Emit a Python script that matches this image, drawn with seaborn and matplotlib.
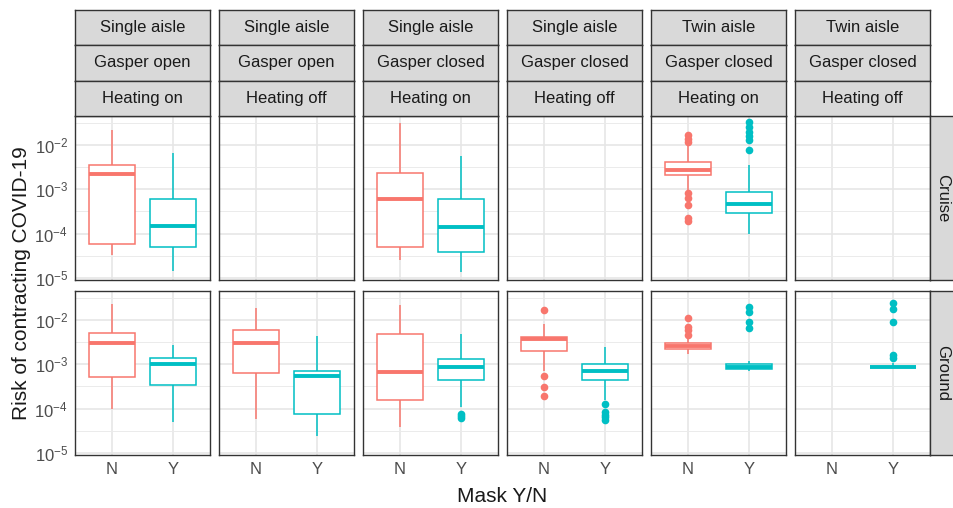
import numpy as np
import pandas as pd
import seaborn as sns
import matplotlib.pyplot as plt

sns.set_style("white")
plt.rcParams['font.family'] = ['Liberation Sans', 'DejaVu Sans']
plt.rcParams['mathtext.fontset'] = 'custom'
plt.rcParams['mathtext.rm'] = 'Liberation Sans'
plt.rcParams['mathtext.it'] = 'Liberation Sans:italic'

# facet labels
aisle = ['Single aisle', 'Single aisle', 'Single aisle', 'Single aisle', 'Twin aisle', 'Twin aisle']
gasper = ['Gasper open', 'Gasper open', 'Gasper closed', 'Gasper closed', 'Gasper closed', 'Gasper closed']
heating = ['Heating on', 'Heating off', 'Heating on', 'Heating off', 'Heating on', 'Heating off']
phases = ['Cruise', 'Ground']
masks = ['N', 'Y']

# box summaries per column: [low whisker, Q1, median, Q3, high whisker]
cruise_N = [[3.3e-5, 5.9e-5, 2.2e-3, 3.5e-3, 2.2e-2], None,
            [2.5e-5, 5.0e-5, 6.2e-4, 2.4e-3, 3.1e-2], None,
            [9.5e-4, 2.1e-3, 2.8e-3, 4.1e-3, 1.0e-2], None]
cruise_Y = [[1.45e-5, 5.0e-5, 1.5e-4, 6.2e-4, 6.7e-3], None,
            [1.35e-5, 3.8e-5, 1.4e-4, 6.2e-4, 5.7e-3], None,
            [9.8e-5, 2.9e-4, 4.6e-4, 8.9e-4, 3.5e-3], None]
ground_N = [[1.0e-4, 5.1e-4, 3.1e-3, 5.1e-3, 2.3e-2],
            [5.8e-5, 6.3e-4, 3.1e-3, 5.9e-3, 1.9e-2],
            [3.8e-5, 1.6e-4, 6.7e-4, 4.8e-3, 2.2e-2],
            [7.0e-4, 2.0e-3, 3.8e-3, 4.2e-3, 8.1e-3],
            [1.7e-3, 2.2e-3, 2.6e-3, 3.1e-3, 3.7e-3], None]
ground_Y = [[5.1e-5, 3.5e-4, 1.0e-3, 1.4e-3, 2.8e-3],
            [2.4e-5, 7.4e-5, 5.6e-4, 7.0e-4, 4.3e-3],
            [1.1e-4, 4.4e-4, 8.7e-4, 1.35e-3, 4.8e-3],
            [1.55e-4, 4.4e-4, 7.1e-4, 1.0e-3, 2.5e-3],
            [7.0e-4, 7.7e-4, 8.7e-4, 1.0e-3, 1.2e-3],
            [8.7e-4, 8.9e-4, 8.9e-4, 8.9e-4, 1.05e-3]]

# outliers per column
cruise_N_out = [[], [], [], [], [1.7e-2, 1.4e-2, 1.2e-2, 8.1e-4, 6.3e-4, 4.4e-4, 2.3e-4, 1.95e-4], []]
cruise_Y_out = [[], [], [], [], [3.36e-2, 2.6e-2, 2.0e-2, 1.6e-2, 1.3e-2, 7.7e-3], []]
ground_N_out = [[], [], [], [1.7e-2, 5.6e-4, 3.1e-4, 1.9e-4], [1.1e-2, 7.1e-3, 5.9e-3, 4.7e-3], []]
ground_Y_out = [[], [], [7.5e-5, 6.8e-5, 6.2e-5], [1.25e-4, 8.3e-5, 7.2e-5, 6.3e-5, 5.5e-5],
                [2.0e-2, 1.54e-2, 8.9e-3, 6.5e-3], [2.5e-2, 1.75e-2, 9.2e-3, 1.6e-3, 1.4e-3]]

colors = {'N': '#F8766D', 'Y': '#00BFC4'}

boxes = {('Cruise', 'N'): cruise_N, ('Cruise', 'Y'): cruise_Y,
         ('Ground', 'N'): ground_N, ('Ground', 'Y'): ground_Y}
outs = {('Cruise', 'N'): cruise_N_out, ('Cruise', 'Y'): cruise_Y_out,
        ('Ground', 'N'): ground_N_out, ('Ground', 'Y'): ground_Y_out}

rows_box, rows_out = [], []
for (ph, m), lst in boxes.items():
    for c, st in enumerate(lst):
        if st is not None:
            for v in st:
                rows_box.append((ph, c, m, v))
        for v in outs[(ph, m)][c]:
            rows_out.append((ph, c, m, v))
box_df = pd.DataFrame(rows_box, columns=['Phase', 'Col', 'Mask', 'Risk'])
out_df = pd.DataFrame(rows_out, columns=['Phase', 'Col', 'Mask', 'Risk'])

W, H = 954, 508
fig = plt.figure(figsize=(W / 100, H / 100), dpi=100)


def px_axes(x0, y0, x1, y1, **kw):
    return fig.add_axes([x0 / W, 1 - y1 / H, (x1 - x0) / W, (y1 - y0) / H], **kw)


col_x = [75, 219, 363, 507, 651, 795]
pw = 135
row_y = [(116, 280), (291, 455)]
strip_y = [(10, 45), (45, 81), (81, 116)]
edge = '#333333'
ylo, yhi = 10 ** -5.05, 10 ** -1.34

for r, ph in enumerate(phases):
    for c in range(6):
        ax = px_axes(col_x[c], row_y[r][0], col_x[c] + pw, row_y[r][1])
        ax.set_yscale('log')
        for m in masks:
            sub = box_df[(box_df.Phase == ph) & (box_df.Col == c) & (box_df.Mask == m)]
            if len(sub):
                sns.boxplot(data=sub, x='Mask', y='Risk', order=masks, color='white',
                            linecolor=colors[m], saturation=1, width=0.75, whis=(0, 100),
                            showfliers=False, showcaps=False, linewidth=1.1,
                            medianprops={'linewidth': 2.8}, ax=ax, zorder=2)
            so = out_df[(out_df.Phase == ph) & (out_df.Col == c) & (out_df.Mask == m)]
            if len(so):
                sns.stripplot(data=so, x='Mask', y='Risk', order=masks, color=colors[m],
                              jitter=False, size=5.5, linewidth=0, ax=ax, zorder=3)
        ax.set_xlim(-0.6, 1.6)
        ax.set_xticks([0, 1])
        ax.set_ylim(ylo, yhi)
        ax.set_yticks([1e-5, 1e-4, 1e-3, 1e-2])
        ax.set_yticks([10 ** -4.5, 10 ** -3.5, 10 ** -2.5, 10 ** -1.5], minor=True)
        ax.set_yticklabels(['$10^{-5}$', '$10^{-4}$', '$10^{-3}$', '$10^{-2}$'])
        ax.grid(which='major', color='#E6E6E6', lw=1.2)
        ax.grid(which='minor', axis='y', color='#EBEBEB', lw=0.7)
        ax.set_axisbelow(True)
        ax.set_xlabel('')
        ax.set_ylabel('')
        for s in ax.spines.values():
            s.set_color(edge)
            s.set_linewidth(1.0)
        ax.tick_params(which='minor', length=0)
        ax.tick_params(which='major', length=3, width=0.8, color=edge,
                       labelcolor='#4D4D4D', labelsize=12, pad=2)
        if c > 0:
            ax.tick_params(axis='y', which='major', left=False, labelleft=False)
        if r == 0:
            ax.tick_params(axis='x', bottom=False, labelbottom=False)
        else:
            ax.set_xticklabels(masks)

# top strips
for c in range(6):
    for k, lab in enumerate([aisle[c], gasper[c], heating[c]]):
        sax = px_axes(col_x[c], strip_y[k][0], col_x[c] + pw, strip_y[k][1])
        sax.set_facecolor('#D9D9D9')
        sax.set_xticks([])
        sax.set_yticks([])
        for s in sax.spines.values():
            s.set_color(edge)
            s.set_linewidth(1.0)
        sax.text(0.5, 0.5, lab, ha='center', va='center', fontsize=12, color='#1A1A1A',
                 transform=sax.transAxes)

# right strips
for r, ph in enumerate(phases):
    sax = px_axes(930, row_y[r][0], 958, row_y[r][1])
    sax.set_facecolor('#D9D9D9')
    sax.set_xticks([])
    sax.set_yticks([])
    for s in sax.spines.values():
        s.set_color(edge)
        s.set_linewidth(1.0)
    sax.text(13 / 28, 0.5, ph, ha='center', va='center', rotation=-90, fontsize=12,
             color='#1A1A1A', transform=sax.transAxes)

fig.text(22 / W, 1 - 283 / H, 'Risk of contracting COVID-19', rotation=90,
         ha='center', va='center', fontsize=15, color='#1A1A1A')
fig.text(502 / W, 1 - 497 / H, 'Mask Y/N', ha='center', va='center',
         fontsize=15, color='#1A1A1A')

plt.savefig('out.png', dpi=100)
